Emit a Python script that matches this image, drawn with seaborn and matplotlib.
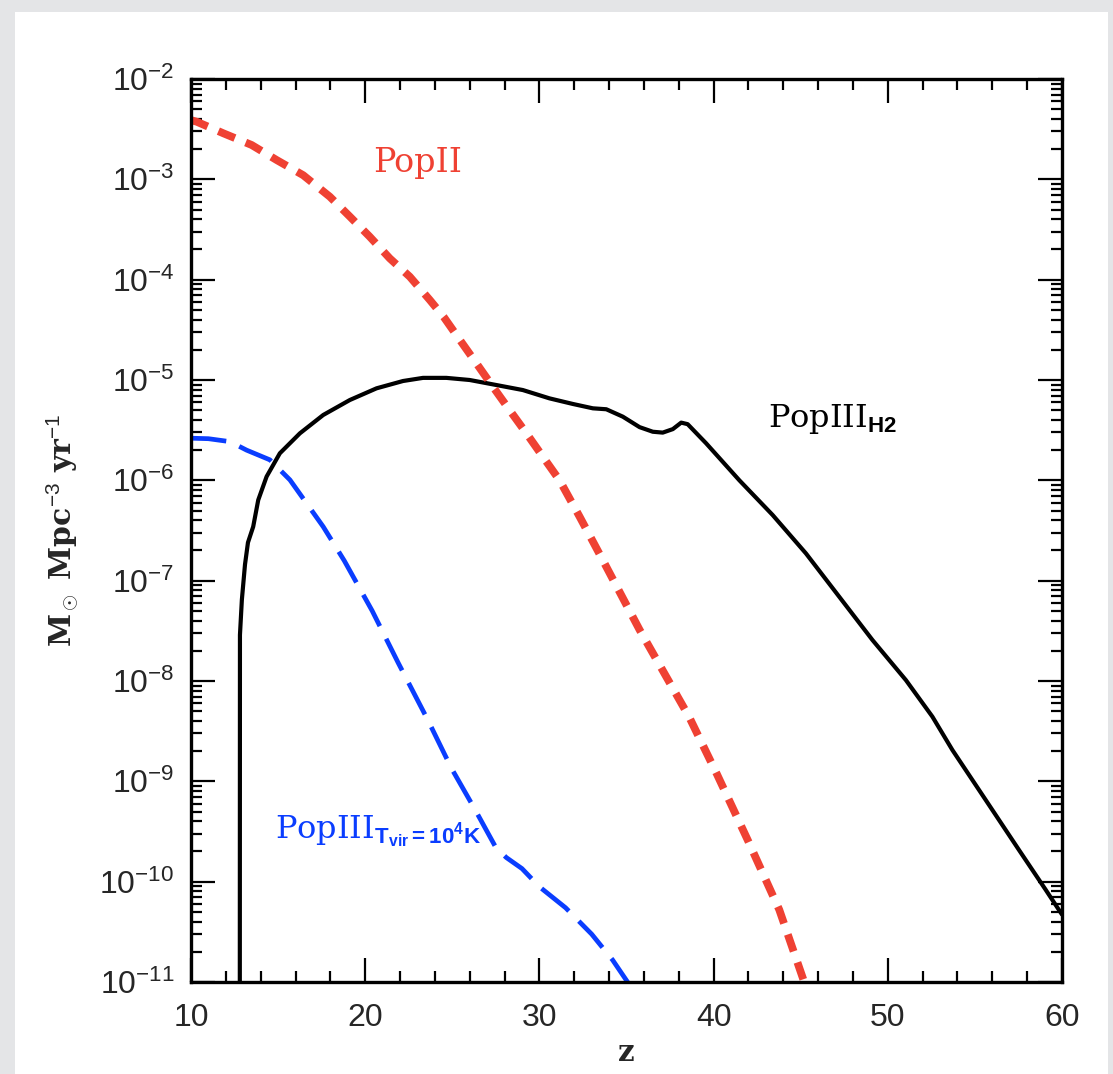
import numpy as np
import pandas as pd
import seaborn as sns
import matplotlib
matplotlib.use("Agg")
import matplotlib.pyplot as plt
from matplotlib.ticker import MultipleLocator, FixedLocator, LogLocator, LogFormatterMathtext, NullFormatter
from matplotlib.patches import Rectangle

# Star formation rate density (Msun / Mpc^3 / yr) vs redshift z
# PopII (red, short dashes)
z_pop2 = [10.0, 10.33, 11.85, 13.48, 14.91, 16.44, 17.97, 19.12, 20.26, 21.41,
          22.56, 23.71, 24.5, 25.44, 26.38, 27.33, 28.29, 29.25, 30.2, 31.16,
          32.3, 33.5, 35.75, 38.6, 40.2, 42.0, 43.77, 45.2, 45.5]
sfr_pop2 = [3.89e-3, 3.75e-3, 2.88e-3, 2.20e-3, 1.56e-3, 1.10e-3, 6.71e-4,
            4.25e-4, 2.68e-4, 1.63e-4, 1.07e-4, 6.27e-5, 4.27e-5, 2.50e-5,
            1.47e-5, 8.57e-6, 5.01e-6, 2.95e-6, 1.72e-6, 1.0e-6, 4.37e-7,
            1.78e-7, 3.24e-8, 4.37e-9, 1.17e-9, 2.51e-10, 5.25e-11, 1.0e-11,
            7.1e-12]

# PopIII in H2-cooling minihaloes (black, solid)
z_pop3_h2 = [12.80, 12.81, 12.92, 13.10, 13.27, 13.57, 13.86, 14.34, 15.10,
             16.25, 17.59, 19.12, 20.65, 22.17, 23.32, 24.66, 26.0, 27.53,
             29.05, 30.58, 31.92, 33.07, 33.84, 34.79, 35.75, 36.51, 37.08,
             37.66, 38.14, 38.51, 39.57, 41.48, 43.39, 45.3, 47.21, 49.12,
             51.04, 52.56, 53.71, 55.62, 57.53, 59.06, 60.0]
sfr_pop3_h2 = [1.0e-12, 2.88e-8, 6.46e-8, 1.45e-7, 2.40e-7, 3.45e-7, 6.37e-7,
               1.09e-6, 1.86e-6, 2.94e-6, 4.48e-6, 6.32e-6, 8.26e-6, 9.77e-6,
               1.05e-5, 1.05e-5, 1.0e-5, 8.91e-6, 7.94e-6, 6.56e-6, 5.77e-6,
               5.22e-6, 5.11e-6, 4.31e-6, 3.39e-6, 3.05e-6, 2.99e-6, 3.24e-6,
               3.76e-6, 3.63e-6, 2.34e-6, 1.0e-6, 4.51e-7, 1.87e-7, 6.92e-8,
               2.56e-8, 1.02e-8, 4.41e-9, 2.05e-9, 6.52e-10, 2.07e-10,
               8.32e-11, 4.7e-11]

# PopIII in atomic-cooling haloes, Tvir = 1e4 K (blue, long dashes)
z_pop3_tvir = [10.0, 11.0, 12.24, 13.19, 14.53, 15.68, 17.59, 18.8, 20.4, 21.9,
               23.6, 24.95, 26.3, 27.5, 28.1, 29.0, 30.0, 31.5, 33.0, 34.2,
               35.06, 35.3]
sfr_pop3_tvir = [2.63e-6, 2.60e-6, 2.43e-6, 2.0e-6, 1.60e-6, 1.01e-6, 3.45e-7,
                 1.58e-7, 5.01e-8, 1.51e-8, 4.07e-9, 1.35e-9, 5.25e-10,
                 2.19e-10, 1.74e-10, 1.35e-10, 8.9e-11, 5.5e-11, 3.0e-11,
                 1.66e-11, 1.0e-11, 8.5e-12]

x_ticks = [10, 20, 30, 40, 50, 60]
y_ticks = [1e-11, 1e-10, 1e-9, 1e-8, 1e-7, 1e-6, 1e-5, 1e-4, 1e-3, 1e-2]

sns.set_style("ticks")
plt.rcParams["font.family"] = ["Liberation Sans", "DejaVu Sans"]
plt.rcParams["mathtext.fontset"] = "custom"
plt.rcParams["mathtext.rm"] = "Liberation Sans"
plt.rcParams["mathtext.sf"] = "Liberation Sans:bold"
plt.rcParams["mathtext.it"] = "Liberation Sans:italic"
plt.rcParams["mathtext.bf"] = "Liberation Sans:bold"

fig = plt.figure(figsize=(11.13, 10.74), dpi=100, facecolor="#e4e5e7")
panel = Rectangle((15 / 1113, 0), 1093 / 1113, 1062 / 1074,
                  transform=fig.transFigure, facecolor="white",
                  edgecolor="none", zorder=-10)
fig.patches.append(panel)
ax = fig.add_axes([191 / 1113, 1 - 982 / 1074, 871 / 1113, 903 / 1074])
ax.set_zorder(5)
ax.set_facecolor("white")

df2 = pd.DataFrame({"z": z_pop2, "sfr": sfr_pop2})
dfh = pd.DataFrame({"z": z_pop3_h2, "sfr": sfr_pop3_h2})
dft = pd.DataFrame({"z": z_pop3_tvir, "sfr": sfr_pop3_tvir})

sns.lineplot(data=dfh, x="z", y="sfr", ax=ax, color="black", linewidth=3.0,
             estimator=None, sort=False)
sns.lineplot(data=dft, x="z", y="sfr", ax=ax, color="#0a3dff", linewidth=3.4,
             estimator=None, sort=False, linestyle=(0, (7.5, 3.0)))
sns.lineplot(data=df2, x="z", y="sfr", ax=ax, color="#ef4133", linewidth=5.6,
             estimator=None, sort=False, linestyle=(0, (2.3, 1.5)))
for ln in ax.get_lines():
    ln.set_dash_capstyle("butt")
    ln.set_solid_joinstyle("round")

ax.set_yscale("log")
ax.set_xlim(10, 60)
ax.set_ylim(1e-11, 1e-2)

ax.xaxis.set_major_locator(FixedLocator(x_ticks))
ax.xaxis.set_minor_locator(MultipleLocator(2))
ax.yaxis.set_major_locator(FixedLocator(y_ticks))
ax.yaxis.set_minor_locator(LogLocator(base=10, subs=np.arange(2, 10), numticks=20))
ax.yaxis.set_major_formatter(LogFormatterMathtext())
ax.yaxis.set_minor_formatter(NullFormatter())

for s in ax.spines.values():
    s.set_linewidth(2.4)
    s.set_color("black")
ax.tick_params(which="both", direction="in", top=True, right=True,
               color="black", width=1.6)
ax.tick_params(which="major", length=17, labelsize=23)
ax.tick_params(axis="x", which="major", pad=15)
ax.tick_params(axis="y", which="major", pad=12)
ax.tick_params(which="minor", length=8)

ax.set_xlabel("z", family="DejaVu Serif", fontweight="bold", fontsize=21,
              labelpad=4)
ax.set_ylabel(r"M$_\odot$ Mpc$^{-3}$ yr$^{-1}$", family="DejaVu Serif",
              fontweight="bold", fontsize=21.5)
ax.yaxis.set_label_coords(-0.127, 0.5)

ax.text(23.0, 1.45e-3, "PopII", color="#ef4133", family="DejaVu Serif",
        fontsize=24, ha="center", va="center")
ax.text(43.1, 3.4e-6, r"PopIII$_{\mathsf{H2}}$", color="black",
        family="DejaVu Serif", fontsize=23, ha="left", va="baseline")
ax.text(14.8, 2.72e-10, r"PopIII$_{\mathsf{T_{vir}=10^{4}K}}$", color="#0a3dff",
        family="DejaVu Serif", fontsize=23, ha="left", va="baseline")

fig.savefig("out.png", dpi=100, facecolor=fig.get_facecolor())
